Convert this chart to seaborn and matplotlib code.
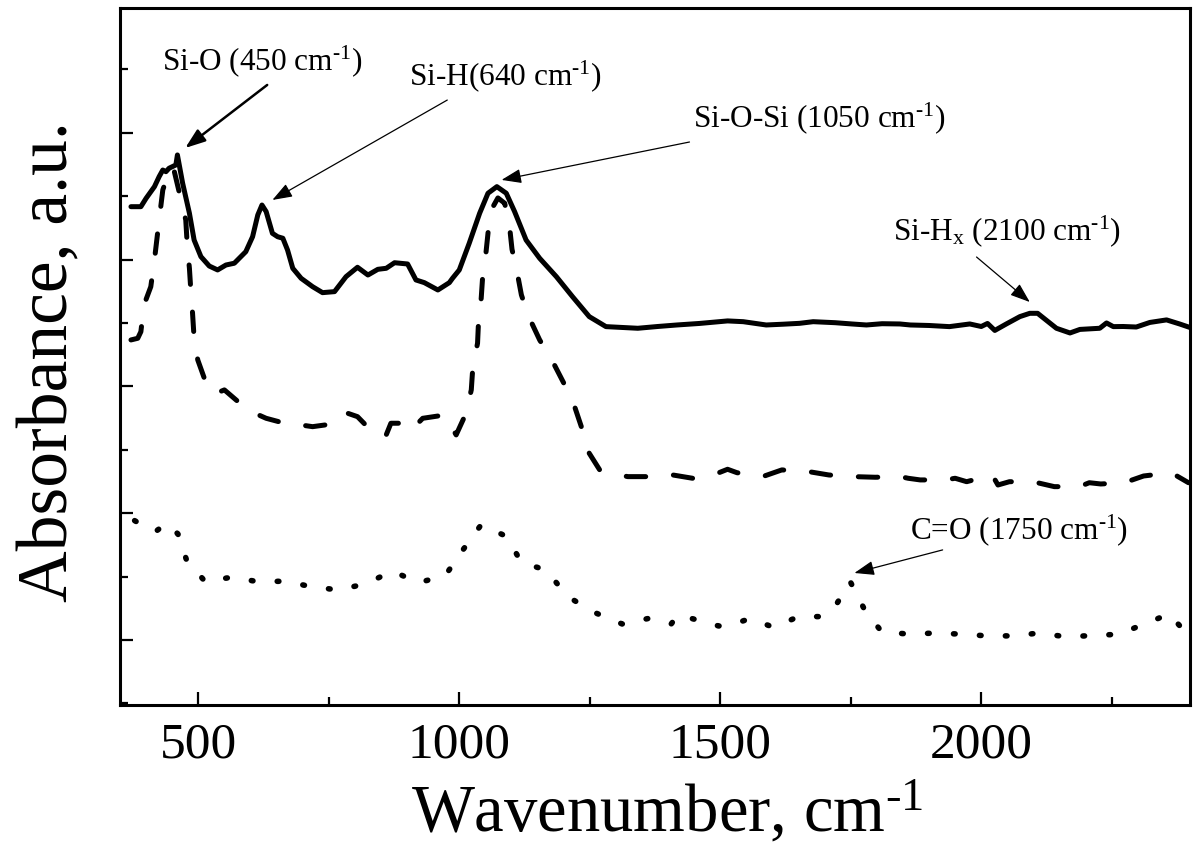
import numpy as np
import pandas as pd
import matplotlib
matplotlib.use("Agg")
import matplotlib.pyplot as plt
import seaborn as sns
from matplotlib.ticker import MultipleLocator

sns.set_theme(style="ticks")
plt.rcParams["font.family"] = ["Liberation Serif", "DejaVu Serif"]
plt.rcParams["mathtext.fontset"] = "custom"
plt.rcParams["mathtext.rm"] = "Liberation Serif"
plt.rcParams["mathtext.it"] = "Liberation Serif:italic"
plt.rcParams["lines.scale_dashes"] = False

# ---- data (wavenumber, cm-1 ; absorbance, a.u. with offsets) ----
solid_wn = [371, 390, 400, 416, 425, 432, 438, 444, 457, 460, 470, 483, 492, 505, 521, 537,
            553, 569, 591, 604, 614, 622, 630, 642, 652, 662, 671, 681, 697, 719, 738, 761,
            783, 805, 825, 844, 860, 876, 901, 917, 933, 959, 981, 987, 1000, 1019, 1039,
            1055, 1072, 1090, 1106, 1128, 1154, 1186, 1217, 1249, 1281, 1342, 1380, 1417,
            1460, 1514, 1544, 1588, 1620, 1652, 1678, 1720, 1752, 1780, 1810, 1844, 1864,
            1900, 1939, 1978, 2000, 2012, 2026, 2048, 2074, 2093, 2108, 2144, 2170, 2189,
            2227, 2240, 2253, 2272, 2297, 2323, 2355, 2380, 2400]
solid_abs = [4.417, 4.417, 4.483, 4.575, 4.654, 4.706, 4.693, 4.720, 4.746, 4.825, 4.602,
             4.365, 4.154, 4.023, 3.949, 3.918, 3.957, 3.971, 4.062, 4.180, 4.352, 4.430,
             4.378, 4.207, 4.180, 4.168, 4.075, 3.931, 3.852, 3.786, 3.739, 3.747, 3.865,
             3.939, 3.878, 3.923, 3.931, 3.975, 3.965, 3.839, 3.818, 3.760, 3.818, 3.852,
             3.918, 4.128, 4.365, 4.523, 4.575, 4.523, 4.378, 4.154, 4.010, 3.865, 3.707,
             3.550, 3.471, 3.458, 3.472, 3.484, 3.496, 3.516, 3.510, 3.484, 3.490, 3.497,
             3.510, 3.502, 3.492, 3.484, 3.494, 3.492, 3.484, 3.480, 3.471, 3.492, 3.472,
             3.496, 3.441, 3.492, 3.550, 3.576, 3.576, 3.458, 3.421, 3.449, 3.458, 3.500,
             3.471, 3.472, 3.468, 3.504, 3.524, 3.492, 3.464]

dashed_wn = [371, 384, 390, 396, 409, 416, 425, 432, 444, 452, 467, 476, 479, 483, 486, 489,
             492, 499, 515, 523, 534, 550, 591, 607, 630, 678, 697, 719, 767, 786, 805, 841,
             860, 869, 895, 908, 930, 972, 994, 1013, 1023, 1026, 1035, 1037, 1042, 1045,
             1051, 1056, 1064, 1074, 1087, 1096, 1101, 1110, 1119, 1133, 1154, 1179, 1202,
             1221, 1237, 1249, 1269, 1286, 1323, 1372, 1409, 1447, 1495, 1514, 1532, 1581,
             1618, 1670, 1708, 1756, 1797, 1845, 1860, 1883, 1931, 1950, 1972, 2021, 2032,
             2054, 2099, 2140, 2188, 2207, 2229, 2274, 2311, 2364, 2397]
dashed_abs = [3.366, 3.379, 3.431, 3.642, 3.786, 3.997, 4.312, 4.549, 4.693, 4.730, 4.470,
              4.312, 4.102, 3.931, 3.736, 3.576, 3.379, 3.208, 3.024, 2.956, 2.945, 2.972,
              2.827, 2.790, 2.748, 2.695, 2.695, 2.682, 2.709, 2.788, 2.761, 2.609, 2.617,
              2.709, 2.709, 2.656, 2.748, 2.774, 2.617, 2.788, 2.972, 3.155, 3.340, 3.524,
              3.695, 3.878, 4.049, 4.247, 4.412, 4.486, 4.444, 4.273, 4.081, 3.918, 3.721,
              3.550, 3.366, 3.195, 3.011, 2.840, 2.643, 2.472, 2.341, 2.315, 2.288, 2.288,
              2.301, 2.275, 2.315, 2.346, 2.319, 2.288, 2.341, 2.327, 2.301, 2.288, 2.283,
              2.288, 2.275, 2.262, 2.262, 2.275, 2.248, 2.301, 2.222, 2.248, 2.248, 2.209,
              2.209, 2.240, 2.230, 2.240, 2.293, 2.319, 2.240]

dotted_wn = [378, 403, 418, 439, 461, 477, 513, 563, 614, 665, 717, 768, 820, 872, 922, 973,
             1007, 1042, 1091, 1119, 1166, 1208, 1260, 1312, 1362, 1406, 1419, 1461, 1497,
             1530, 1557, 1602, 1650, 1691, 1723, 1749, 1776, 1809, 1858, 1905, 1957, 2011,
             2060, 2108, 2162, 2213, 2263, 2313, 2360, 2396]
dotted_abs = [1.941, 1.881, 1.854, 1.920, 1.836, 1.636, 1.460, 1.494, 1.460, 1.463, 1.420,
              1.394, 1.442, 1.542, 1.452, 1.507, 1.710, 1.909, 1.815, 1.610, 1.552, 1.341,
              1.215, 1.126, 1.169, 1.126, 1.197, 1.152, 1.110, 1.132, 1.168, 1.100, 1.184,
              1.184, 1.284, 1.460, 1.242, 1.065, 1.047, 1.053, 1.047, 1.032, 1.032, 1.053,
              1.026, 1.034, 1.045, 1.126, 1.205, 1.039]

# annotations: label, text anchor (wn, abs), arrow tail, arrow head, arrow width
ann_labels = [r"Si-O (450 cm$^{\text{-1}}$)",
              r"Si-H(640 cm$^{\text{-1}}$)",
              r"Si-O-Si (1050 cm$^{\text{-1}}$)",
              r"Si-H$_{\text{x}}$ (2100 cm$^{\text{-1}}$)",
              r"C=O (1750 cm$^{\text{-1}}$)"]
ann_text_xy = [(431, 5.495), (904, 5.377), (1447, 5.045), (1830, 4.154), (1863, 1.796)]
ann_tail_xy = [(632, 5.377), (977, 5.258), (1441, 4.927), (1991, 4.020), (1926, 1.710)]
ann_head_xy = [(475, 4.880), (642, 4.470), (1081, 4.628), (2093, 3.665), (1757, 1.528)]
ann_lw = [1.8, 0.9, 0.9, 0.9, 0.9]

fig = plt.figure(figsize=(12, 8.59), dpi=100)
ax = fig.add_axes([0.1, 0.1793, 0.8917, 0.8114])

df_s = pd.DataFrame({"wn": solid_wn, "A": solid_abs})
df_d = pd.DataFrame({"wn": dashed_wn, "A": dashed_abs})
df_o = pd.DataFrame({"wn": dotted_wn, "A": dotted_abs})

sns.lineplot(data=df_s, x="wn", y="A", ax=ax, color="black", lw=3.6,
             sort=False, estimator=None)
sns.lineplot(data=df_d, x="wn", y="A", ax=ax, color="black", lw=3.6,
             sort=False, estimator=None)
ln_d = ax.lines[-1]
ln_d.set_dashes((14, 20))
ln_d.set_dash_capstyle("round")
sns.lineplot(data=df_o, x="wn", y="A", ax=ax, color="black", lw=4.0,
             sort=False, estimator=None)
ln_o = ax.lines[-1]
ln_o.set_dashes((1.2, 17.5))
ln_o.set_dash_capstyle("round")

for lab, txy, tail, head, lw in zip(ann_labels, ann_text_xy, ann_tail_xy, ann_head_xy, ann_lw):
    ax.text(txy[0], txy[1], lab, fontsize=22.5, ha="left", va="baseline", color="black")
    ax.annotate("", xy=head, xytext=tail,
                arrowprops=dict(arrowstyle="-|>,head_length=0.55,head_width=0.2",
                                mutation_scale=22, color="black", lw=lw,
                                shrinkA=0, shrinkB=0))

ax.set_xlim(350, 2400)
ax.set_ylim(0.487, 5.984)
ax.xaxis.set_major_locator(MultipleLocator(500))
ax.xaxis.set_minor_locator(MultipleLocator(250))
ax.yaxis.set_major_locator(MultipleLocator(1))
ax.yaxis.set_minor_locator(MultipleLocator(0.5))
ax.tick_params(axis="both", which="major", direction="in", length=9.5, width=1.6,
               labelsize=37, pad=12, color="black", labelcolor="black")
ax.tick_params(axis="both", which="minor", direction="in", length=5.5, width=1.6,
               color="black")
ax.tick_params(axis="y", labelleft=False)
for sp in ax.spines.values():
    sp.set_linewidth(2.2)
    sp.set_color("black")
    sp.set_visible(True)

ax.set_xlabel(r"Wavenumber, cm$^{\text{-1}}$", fontsize=48, color="black")
ax.set_ylabel("Absorbance, a.u.", fontsize=51.5, color="black")
ax.xaxis.set_label_coords(0.5117, -0.105)
ax.yaxis.set_label_coords(-0.035, 0.492)

fig.savefig("out.png", dpi=100)
